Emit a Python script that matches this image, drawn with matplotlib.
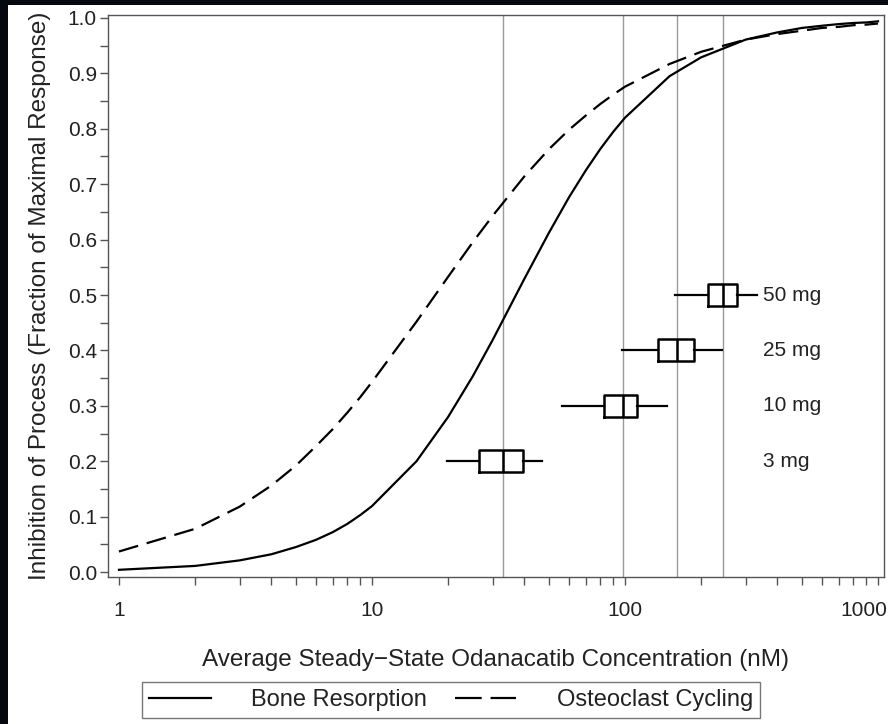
import matplotlib
matplotlib.use('Agg')
from matplotlib import pyplot as plt
from matplotlib.patches import Rectangle
from matplotlib.lines import Line2D
from matplotlib.ticker import (MultipleLocator, LogLocator, FixedLocator, NullFormatter,
                               FormatStrFormatter, FixedFormatter)
from matplotlib.transforms import ScaledTranslation
import numpy as np

# %% data
conc_nM = [1, 2, 3, 4, 5, 6, 7, 8, 9, 10, 15, 20, 25, 30, 40, 50, 60, 70, 80, 90,
           100, 150, 200, 300, 400, 500, 600, 700, 800, 900, 1000]
bone_resorption = [0.004, 0.011, 0.021, 0.032, 0.045, 0.058, 0.072, 0.087, 0.103, 0.119,
                   0.200, 0.280, 0.353, 0.419, 0.529, 0.612, 0.676, 0.725, 0.764, 0.795,
                   0.820, 0.895, 0.929, 0.961, 0.974, 0.982, 0.986, 0.989, 0.991, 0.992, 0.994]
osteoclast_cycling = [0.037, 0.078, 0.118, 0.156, 0.192, 0.227, 0.258, 0.288, 0.316, 0.343,
                      0.452, 0.533, 0.595, 0.643, 0.714, 0.763, 0.798, 0.824, 0.845, 0.862,
                      0.876, 0.917, 0.939, 0.961, 0.971, 0.977, 0.982, 0.984, 0.987, 0.988, 0.990]

doses = ['3 mg', '10 mg', '25 mg', '50 mg']
dose_y = [0.2, 0.3, 0.4, 0.5]
whis_lo = [19.8, 56.3, 97.3, 157.7]
q1 = [26.5, 82.6, 135.0, 213.0]
med = [33.0, 98.5, 161.0, 245.0]
q3 = [39.5, 111.5, 187.6, 277.0]
whis_hi = [47.0, 146.6, 242.0, 332.0]

x_ticks = [1, 10, 100, 1000]
x_ticklabels = ['1', '10', '100', '1000']

# %% figure
TXT = '#222222'
plt.rcParams['font.family'] = ['Liberation Sans', 'DejaVu Sans']
plt.rcParams['text.color'] = TXT
plt.rcParams['axes.labelcolor'] = TXT
plt.rcParams['xtick.color'] = '#555555'
plt.rcParams['ytick.color'] = '#555555'
plt.rcParams['xtick.labelcolor'] = TXT
plt.rcParams['ytick.labelcolor'] = TXT

fig = plt.figure(figsize=(8.88, 7.24), dpi=100)
fig.patch.set_facecolor('white')
# dark strips at the top and left edges
fig.patches.append(Rectangle((0, 1 - 5/724), 1, 5/724, transform=fig.transFigure,
                             facecolor='#05080f', edgecolor='none', zorder=-5))
fig.patches.append(Rectangle((0, 0), 8/888, 1, transform=fig.transFigure,
                             facecolor='#05080f', edgecolor='none', zorder=-5))

ax = fig.add_axes([108/888, 1 - 577/724, (884-108)/888, (577-15)/724])
ax.set_xscale('log')
ax.set_xlim(0.905, 1056)
ax.set_ylim(-0.009, 1.0054)

# reference lines at the medians
for m in med:
    ax.axvline(m, color='#999999', lw=1.0, zorder=1)

ax.plot(conc_nM, bone_resorption, color='black', lw=1.6, zorder=3, label='Bone Resorption')
ax.plot(conc_nM, osteoclast_cycling, color='black', lw=1.6, dashes=(9, 4), zorder=3,
        label='Osteoclast Cycling')

stats = [dict(whislo=a, q1=b, med=c, q3=d, whishi=e, fliers=[])
         for a, b, c, d, e in zip(whis_lo, q1, med, q3, whis_hi)]
ax.bxp(stats, positions=dose_y, widths=0.04, orientation='horizontal', showcaps=False,
       showfliers=False, manage_ticks=False, patch_artist=False,
       boxprops=dict(color='black', lw=1.8),
       medianprops=dict(color='black', lw=1.8),
       whiskerprops=dict(color='black', lw=1.6),
       zorder=4)

for lab, y in zip(doses, dose_y):
    ax.text(352, y, lab, va='center', ha='left', fontsize=15, color=TXT)

ax.yaxis.set_major_locator(MultipleLocator(0.1))
ax.yaxis.set_minor_locator(MultipleLocator(0.05))
ax.yaxis.set_major_formatter(FormatStrFormatter('%.1f'))
ax.xaxis.set_major_locator(FixedLocator(x_ticks))
ax.xaxis.set_major_formatter(FixedFormatter(x_ticklabels))
ax.xaxis.set_minor_locator(LogLocator(base=10, subs=np.arange(2, 10)))
ax.xaxis.set_minor_formatter(NullFormatter())
ax.tick_params(axis='both', which='both', direction='out', labelsize=15, width=1.0)
ax.tick_params(axis='y', which='both', length=6, pad=2)
ax.tick_params(axis='x', which='both', length=6, pad=11)
for s in ax.spines.values():
    s.set_color('#555555')
    s.set_linewidth(1.0)

# the last x tick label is pulled left so it stays inside the figure
fig.canvas.draw()
last = ax.get_xticklabels()[-1]
last.set_transform(last.get_transform() + ScaledTranslation(-14/100, 0, fig.dpi_scale_trans))

ax.set_xlabel('Average Steady\u2212State Odanacatib Concentration (nM)', fontsize=17.5, labelpad=21)
ax.set_ylabel('Inhibition of Process (Fraction of Maximal Response)', fontsize=17.5, labelpad=12)

handles = [Line2D([], [], color='black', lw=1.6),
           Line2D([], [], color='black', lw=1.6, dashes=(12, 4))]
leg = fig.legend(handles, ['Bone Resorption', 'Osteoclast Cycling'], loc='center',
                 bbox_to_anchor=(451/888, 1 - 700/724), ncol=2, fontsize=17,
                 frameon=True, fancybox=False, handlelength=2.6, handletextpad=1.7,
                 columnspacing=1.2, borderpad=0.3, borderaxespad=0)
leg.get_frame().set_edgecolor('#555555')
leg.get_frame().set_linewidth(1.0)

fig.savefig('out.png', dpi=100)
